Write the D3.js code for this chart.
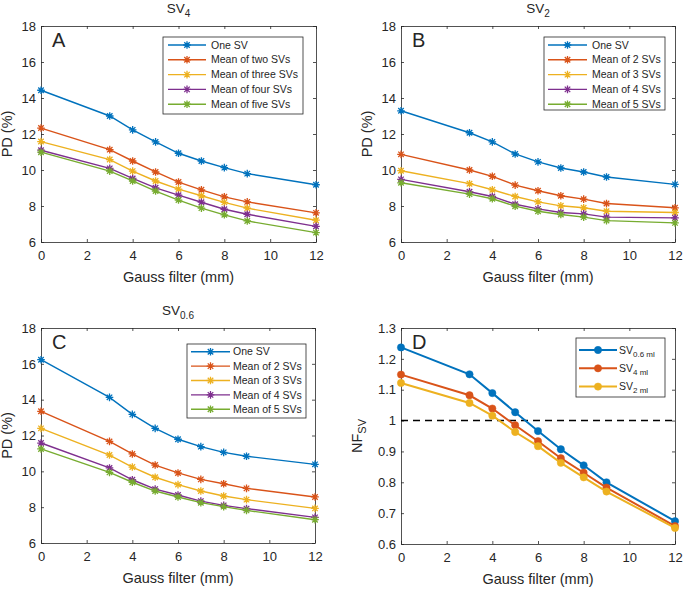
<!DOCTYPE html>
<html>
<head>
<meta charset="utf-8">
<script src="https://cdn.jsdelivr.net/npm/d3@7"></script>
<style>
body{margin:0;background:#fff;}
text{font-family:"Liberation Sans",Arial,Helvetica,sans-serif;fill:#262626;}
</style>
</head>
<body>
<div id="chart"></div>
<script>
var w = 685,
h = 589;

//Shared x values and ticks
var gauss = [0,3,4,5,6,7,8,9,12];
var xTicks = [0,2,4,6,8,10,12];
var pdTicks = [6,8,10,12,14,16,18];
var nfTicks = [0.6,0.7,0.8,0.9,1,1.1,1.2,1.3];

var colors = ["#0072BD","#D95319","#EDB120","#7E2F8E","#77AC30"];

//Panel A - SV4
var aNames = ["One SV","Mean of two SVs","Mean of three SVs","Mean of four SVs","Mean of five SVs"];
var aOne   = [14.43,13.0,12.23,11.56,10.93,10.50,10.13,9.80,9.18];
var aTwo   = [12.33,11.13,10.50,9.89,9.33,8.90,8.51,8.23,7.62];
var aThree = [11.58,10.58,9.94,9.39,8.94,8.57,8.20,7.88,7.21];
var aFour  = [11.10,10.09,9.53,9.01,8.60,8.21,7.82,7.54,6.87];
var aFive  = [10.99,9.94,9.39,8.83,8.33,7.88,7.51,7.17,6.52];

//Panel B - SV2
var bNames = ["One SV","Mean of 2 SVs","Mean of 3 SVs","Mean of 4 SVs","Mean of 5 SVs"];
var bOne   = [13.29,12.07,11.56,10.89,10.45,10.11,9.89,9.61,9.20];
var bTwo   = [10.87,10.0,9.65,9.16,8.85,8.57,8.38,8.14,7.90];
var bThree = [9.96,9.24,8.90,8.53,8.23,8.01,7.90,7.71,7.64];
var bFour  = [9.48,8.79,8.53,8.10,7.84,7.64,7.56,7.38,7.34];
var bFive  = [9.29,8.66,8.40,7.99,7.71,7.53,7.38,7.19,7.06];

//Panel C - SV0.6
var cNames = ["One SV","Mean of 2 SVs","Mean of 3 SVs","Mean of 4 SVs","Mean of 5 SVs"];
var cOne   = [16.23,14.13,13.18,12.40,11.79,11.38,11.06,10.84,10.39];
var cTwo   = [13.35,11.67,10.97,10.35,9.91,9.55,9.31,9.05,8.57];
var cThree = [12.40,10.91,10.24,9.67,9.26,8.90,8.62,8.42,7.93];
var cFour  = [11.58,10.19,9.53,9.01,8.68,8.34,8.10,7.92,7.43];
var cFive  = [11.25,9.94,9.39,8.90,8.57,8.25,8.03,7.82,7.30];

//Panel D - NF_SV
var dNames = ["0.6 ml","4 ml","2 ml"];
var dSV06 = [1.237,1.150,1.089,1.027,0.966,0.907,0.855,0.800,0.674];
var dSV4  = [1.149,1.082,1.039,0.985,0.933,0.878,0.831,0.783,0.658];
var dSV2  = [1.122,1.057,1.016,0.963,0.917,0.863,0.816,0.770,0.652];
var dColors = ["#0072BD","#D95319","#EDB120"];

var svg = d3.select("#chart").append("svg")
.attr("width", w)
.attr("height", h);

svg.append("rect").attr("width", w).attr("height", h).attr("fill", "#fff");

function asterisk(r){
	var d = r * 0.72;
	return "M" + (-r) + ",0H" + r + "M0," + (-r) + "V" + r +
		"M" + (-d) + "," + (-d) + "L" + d + "," + d +
		"M" + (-d) + "," + d + "L" + d + "," + (-d);
}

function drawPanel(p){
	var g = svg.append("g");
	var x = d3.scaleLinear().domain([0,12]).range([p.l, p.r]);
	var y = d3.scaleLinear().domain(p.yDomain).range([p.b, p.t]);
	var fmt = p.fmt || function(d){ return d; };

	g.append("g").attr("transform", "translate(0," + p.b + ")")
	.call(d3.axisBottom(x).tickValues(xTicks).tickSizeInner(-3).tickSizeOuter(0).tickPadding(9));
	g.append("g").attr("transform", "translate(0," + p.t + ")")
	.call(d3.axisTop(x).tickValues(xTicks).tickSizeInner(-3).tickSizeOuter(0).tickFormat(""));
	g.append("g").attr("transform", "translate(" + p.l + ",0)")
	.call(d3.axisLeft(y).tickValues(p.yTicks).tickSizeInner(-3).tickSizeOuter(0).tickPadding(5).tickFormat(fmt));
	g.append("g").attr("transform", "translate(" + p.r + ",0)")
	.call(d3.axisRight(y).tickValues(p.yTicks).tickSizeInner(-3).tickSizeOuter(0).tickFormat(""));

	g.selectAll(".domain, .tick line").attr("stroke", "#262626").attr("stroke-width", 0.8);
	g.selectAll(".tick text").attr("font-size", "13px").attr("fill", "#262626");

	//Dashed reference line
	if (p.refLine !== undefined) {
		g.append("line")
		.attr("x1", x(0)).attr("x2", x(12))
		.attr("y1", y(p.refLine)).attr("y2", y(p.refLine))
		.attr("stroke", "#000").attr("stroke-width", 1.6)
		.attr("stroke-dasharray", "7,5");
	}

	var line = d3.line()
	.x(function(d, i){ return x(gauss[i]); })
	.y(function(d){ return y(d); });

	p.series.forEach(function(s, k){
		g.append("path")
		.attr("d", line(s))
		.attr("fill", "none")
		.attr("stroke", p.colors[k])
		.attr("stroke-width", p.lw);
		g.selectAll(null)
		.data(s)
		.enter()
		.append("path")
		.attr("transform", function(d, i){ return "translate(" + x(gauss[i]) + "," + y(d) + ")"; })
		.attr("d", p.dots ? d3.symbol().type(d3.symbolCircle).size(42)() : asterisk(3.8))
		.attr("fill", p.dots ? p.colors[k] : "none")
		.attr("stroke", p.colors[k])
		.attr("stroke-width", p.dots ? 0.5 : 1.3);
	});

	//Title
	if (p.title) {
		var t = g.append("text")
		.attr("x", (p.l + p.r) / 2)
		.attr("y", p.t - 13)
		.attr("text-anchor", "middle")
		.attr("font-size", "13.5px");
		t.append("tspan").text("SV");
		t.append("tspan").attr("dy", 4).attr("font-size", "10px").text(p.title);
	}

	//Panel letter
	g.append("text")
	.attr("x", p.l + 11)
	.attr("y", p.t + 21)
	.attr("font-size", "20px")
	.attr("fill", "#000")
	.text(p.letter);

	//Axis labels
	g.append("text")
	.attr("x", (p.l + p.r) / 2)
	.attr("y", p.b + 40)
	.attr("text-anchor", "middle")
	.attr("font-size", "14.5px")
	.text("Gauss filter (mm)");

	var yl = g.append("text")
	.attr("transform", "translate(" + p.yl + "," + (p.t + p.b) / 2 + ") rotate(-90)")
	.attr("text-anchor", "middle")
	.attr("font-size", "14.5px");
	if (p.dots) {
		yl.append("tspan").text("NF");
		yl.append("tspan").attr("dy", 4).attr("font-size", "11px").text("SV");
	} else {
		yl.text("PD (%)");
	}

	//Legend
	var L = p.legend;
	var lg = g.append("g").attr("transform", "translate(" + L.x + "," + L.y + ")");
	lg.append("rect")
	.attr("width", L.w).attr("height", L.h)
	.attr("fill", "#fff")
	.attr("stroke", "#262626").attr("stroke-width", 0.8);
	p.names.forEach(function(n, k){
		var ry = L.r0 + k * L.step;
		lg.append("line")
		.attr("x1", L.lx1).attr("x2", L.lx2)
		.attr("y1", ry).attr("y2", ry)
		.attr("stroke", p.colors[k]).attr("stroke-width", p.lw);
		lg.append("path")
		.attr("transform", "translate(" + (L.lx1 + L.lx2) / 2 + "," + ry + ")")
		.attr("d", p.dots ? d3.symbol().type(d3.symbolCircle).size(42)() : asterisk(3.8))
		.attr("fill", p.dots ? p.colors[k] : "none")
		.attr("stroke", p.colors[k])
		.attr("stroke-width", p.dots ? 0.5 : 1.3);
		var tx = lg.append("text")
		.attr("x", L.tx)
		.attr("y", ry)
		.attr("dy", "0.35em")
		.attr("font-size", "10.5px");
		if (p.dots) {
			tx.append("tspan").text("SV");
			tx.append("tspan").attr("dy", 3).attr("font-size", "8px").text(n);
		} else {
			tx.text(n);
		}
	});
}

drawPanel({
	l: 41, r: 316, t: 26, b: 242, yl: 12,
	yDomain: [6,18], yTicks: pdTicks, lw: 1.4,
	title: "4", letter: "A",
	series: [aOne, aTwo, aThree, aFour, aFive], names: aNames, colors: colors,
	legend: {x: 163, y: 37, w: 140, h: 77, r0: 8, step: 14.8, lx1: 5, lx2: 43, tx: 48}
});

drawPanel({
	l: 401, r: 675, t: 26, b: 242, yl: 372,
	yDomain: [6,18], yTicks: pdTicks, lw: 1.4,
	title: "2", letter: "B",
	series: [bOne, bTwo, bThree, bFour, bFive], names: bNames, colors: colors,
	legend: {x: 544, y: 37, w: 121, h: 73, r0: 8, step: 14.8, lx1: 4, lx2: 43, tx: 48}
});

drawPanel({
	l: 41, r: 315, t: 328, b: 543, yl: 12,
	yDomain: [6,18], yTicks: pdTicks, lw: 1.4,
	title: "0.6", letter: "C",
	series: [cOne, cTwo, cThree, cFour, cFive], names: cNames, colors: colors,
	legend: {x: 187, y: 344, w: 119, h: 74, r0: 7.7, step: 14.4, lx1: 4, lx2: 43, tx: 46}
});

drawPanel({
	l: 401, r: 675, t: 328, b: 544, yl: 362,
	yDomain: [0.6,1.3], yTicks: nfTicks, lw: 2,
	fmt: d3.format("~g"), letter: "D", dots: true, refLine: 1,
	series: [dSV06, dSV4, dSV2], names: dNames, colors: dColors,
	legend: {x: 576, y: 338, w: 89, h: 59, r0: 12, step: 18.3, lx1: 3, lx2: 41, tx: 43}
});
</script>
</body>
</html>
